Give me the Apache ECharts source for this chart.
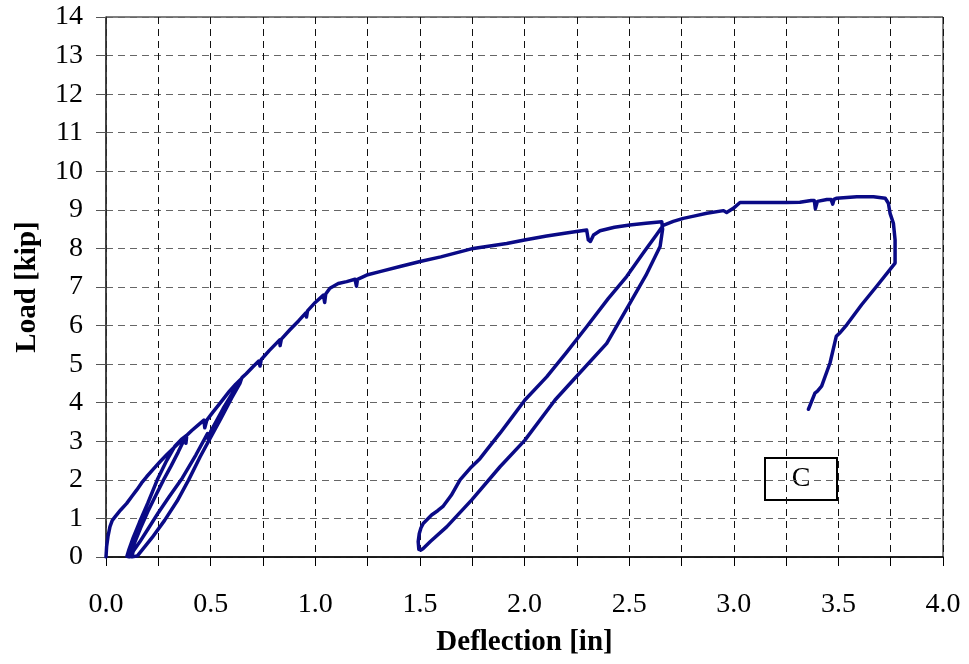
<!DOCTYPE html>
<html>
<head>
<meta charset="utf-8">
<script src="https://cdn.jsdelivr.net/npm/echarts@6/dist/echarts.min.js"></script>
<style>
html,body{margin:0;padding:0;background:#fff;}
#chart{width:969px;height:664px;}
</style>
</head>
<body>
<div id="chart"></div>
<script>
// Deflection [in] (path order as recorded, including unload/reload cycles)
const deflection = [
  0,0.003,0.01,0.019,0.03,0.043,0.07,0.099,0.125,0.147,0.17,0.194,0.225,0.258,0.29,0.322,0.35,0.378,0.382,0.385,
  0.37,0.345,0.31,0.275,0.24,0.20,0.165,0.135,0.118,0.112,
  0.10,0.11,0.13,0.16,0.20,0.245,0.29,0.33,0.36,0.385,
  0.41,0.44,0.468,0.472,0.478,0.482,0.51,0.55,0.59,0.62,0.648,
  0.64,0.60,0.55,0.50,0.45,0.395,0.34,0.28,0.22,0.175,0.15,0.145,
  0.123,0.13,0.16,0.20,0.25,0.30,0.365,0.43,0.485,0.49,0.50,0.56,0.61,0.65,
  0.67,0.70,0.73,0.736,0.742,0.78,0.83,0.832,0.838,0.879,0.92,0.955,0.958,0.963,1.0,1.039,1.045,1.05,1.07,1.11,1.15,1.19,1.197,1.202,1.246,1.309,1.405,1.501,1.6,1.755,1.915,2.0,2.106,2.2,2.297,2.305,2.315,2.33,2.361,2.43,2.503,2.58,2.656,
  2.66,2.648,2.58,2.504,2.393,2.233,2.146,2.002,1.883,1.748,1.628,1.55,1.516,1.505,
  1.495,1.492,1.497,1.505,1.516,1.556,1.585,1.612,1.65,1.692,1.74,1.787,1.83,1.883,1.94,2.002,2.106,2.2,2.297,2.4,2.488,2.57,2.63,2.663,
  2.711,2.759,2.82,2.871,2.951,2.966,2.998,3.030,3.15,3.253,3.316,3.37,3.385,3.39,3.397,3.40,3.445,3.465,3.473,3.48,3.492,3.588,3.668,3.724,3.739,3.747,3.763,3.771,3.771,
  3.683,3.611,3.540,3.505,3.490,3.460,3.420,3.400,3.388,3.357
];
// Load [kip]
const load = [
  0,0.27,0.55,0.79,0.95,1.04,1.22,1.39,1.58,1.74,1.92,2.08,2.27,2.47,2.65,2.82,2.97,3.12,2.95,3.1,
  3.0,2.72,2.35,2.0,1.62,1.18,0.75,0.35,0.1,0,
  0.02,0.2,0.5,0.9,1.4,2.0,2.5,2.88,3.05,3.15,
  3.28,3.42,3.55,3.35,3.38,3.55,3.75,4.02,4.3,4.48,4.63,
  4.5,4.12,3.6,3.1,2.6,2.0,1.45,0.95,0.5,0.2,0.03,0,
  0,0.15,0.38,0.72,1.15,1.55,2.05,2.65,3.2,3.02,3.25,3.85,4.3,4.65,
  4.75,4.92,5.08,4.95,5.12,5.35,5.63,5.48,5.65,5.89,6.12,6.33,6.22,6.38,6.6,6.79,6.6,6.82,6.97,7.09,7.14,7.20,7.02,7.2,7.31,7.40,7.53,7.66,7.78,8.0,8.13,8.22,8.32,8.40,8.48,8.22,8.18,8.35,8.46,8.55,8.61,8.65,8.69,
  8.5,8.05,7.3,6.58,5.54,4.59,4.07,3.03,2.34,1.48,0.78,0.4,0.22,0.18,
  0.2,0.4,0.6,0.75,0.87,1.09,1.2,1.32,1.6,2.0,2.3,2.55,2.85,3.21,3.62,4.07,4.67,5.3,5.97,6.7,7.27,7.9,8.35,8.6,
  8.7,8.78,8.85,8.91,8.98,8.93,9.04,9.19,9.19,9.19,9.2,9.24,9.24,9.03,9.04,9.22,9.27,9.27,9.15,9.28,9.30,9.34,9.34,9.30,9.17,8.91,8.65,8.22,7.62,
  7.02,6.54,6.02,5.80,5.72,5.03,4.43,4.30,4.25,3.83
];
const xTicks = { min: 0, max: 4, step: 0.25 };
const yTicks = { min: 0, max: 14, step: 1 };
const xTitle = 'Deflection [in]';
const yTitle = 'Load [kip]';
const boxLabel = 'C';

const seriesData = deflection.map((x, i) => [x, load[i]]);
const FONT = '"Liberation Serif","Times New Roman",serif';

const chart = echarts.init(document.getElementById('chart'), null, { renderer: 'canvas' });
chart.setOption({
  animation: false,
  backgroundColor: '#ffffff',
  grid: {
    left: 106, right: 26, top: 17, bottom: 107,
    show: true, borderColor: '#000', borderWidth: 1, backgroundColor: 'transparent',
    outerBoundsMode: 'none'
  },
  xAxis: {
    type: 'value',
    min: xTicks.min, max: xTicks.max, interval: xTicks.step,
    name: xTitle, nameLocation: 'middle', nameGap: 71,
    nameTextStyle: { fontFamily: FONT, fontWeight: 'bold', fontSize: 29, color: '#000' },
    axisLine: { show: true, onZero: false, lineStyle: { color: '#000', width: 1.5 } },
    axisTick: { show: true, inside: false, length: 9, lineStyle: { color: '#000' } },
    axisLabel: {
      margin: 34, fontFamily: FONT, fontSize: 28, color: '#000', interval: 0,
      showMinLabel: true, showMaxLabel: true,
      formatter: v => (Math.abs(v * 2 - Math.round(v * 2)) < 1e-9 ? v.toFixed(1) : '')
    },
    splitLine: { show: true, lineStyle: { color: '#111', width: 1, type: [7, 5] } }
  },
  yAxis: {
    type: 'value',
    min: yTicks.min, max: yTicks.max, interval: yTicks.step,
    name: yTitle, nameLocation: 'middle', nameGap: 64, nameRotate: 90,
    nameTextStyle: { fontFamily: FONT, fontWeight: 'bold', fontSize: 29, color: '#000' },
    axisLine: { show: true, onZero: false, lineStyle: { color: '#333', width: 1.5 } },
    axisTick: { show: true, inside: false, length: 10, lineStyle: { color: '#555' } },
    axisLabel: { margin: 23, fontFamily: FONT, fontSize: 28, color: '#000' },
    splitLine: { show: true, lineStyle: { color: '#666', width: 1, type: [7, 5] } }
  },
  series: [{
    type: 'line',
    data: seriesData,
    showSymbol: false,
    symbol: 'none',
    smooth: false,
    lineStyle: { color: '#0a0a86', width: 3.5, join: 'round', cap: 'round' },
    z: 5
  }],
  graphic: [{
    type: 'group',
    left: 764, top: 457,
    children: [
      { type: 'rect', shape: { x: 0, y: 0, width: 72, height: 42 },
        style: { fill: '#fff', stroke: '#000', lineWidth: 2 } },
      { type: 'text', x: 36, y: 21,
        style: { text: boxLabel, font: '28px ' + FONT, fill: '#000', textAlign: 'center', textVerticalAlign: 'middle' } }
    ]
  }]
});
</script>
</body>
</html>
